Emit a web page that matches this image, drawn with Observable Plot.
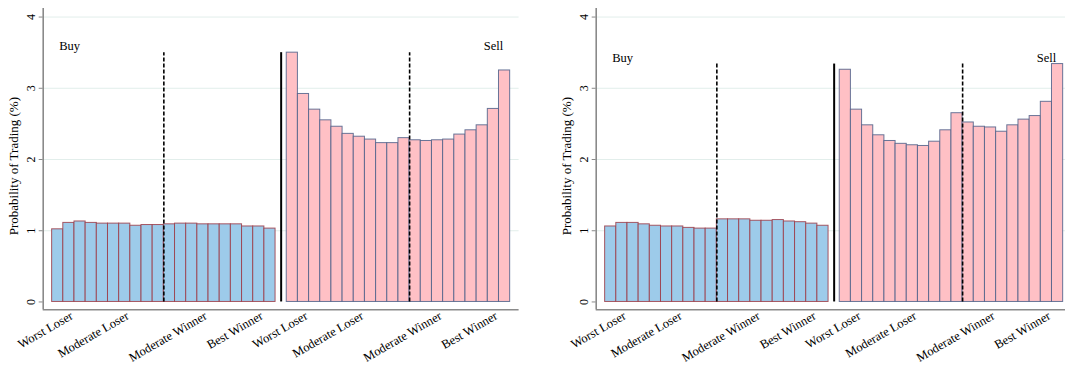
<!DOCTYPE html>
<html><head><meta charset="utf-8">
<script src="https://cdn.jsdelivr.net/npm/d3@7"></script>
<script src="https://cdn.jsdelivr.net/npm/@observablehq/plot@0.6"></script>
<style>
body{margin:0;background:#fff;overflow:hidden}
#wrap{display:flex;width:1110px;}
#wrap svg{flex:none}
</style></head><body><div id="wrap"></div>
<script>
// Probability of trading (%) by position bin, 20 bins each side
const leftBuy   = [1.02, 1.11, 1.13, 1.11, 1.10, 1.10, 1.10, 1.07, 1.08, 1.08, 1.09, 1.10, 1.10, 1.09, 1.09, 1.09, 1.09, 1.06, 1.06, 1.03];
const leftSell  = [3.50, 2.92, 2.70, 2.55, 2.46, 2.36, 2.32, 2.28, 2.23, 2.23, 2.30, 2.27, 2.26, 2.27, 2.28, 2.35, 2.41, 2.48, 2.71, 3.25];
const rightBuy  = [1.06, 1.11, 1.11, 1.09, 1.07, 1.06, 1.06, 1.04, 1.03, 1.03, 1.16, 1.16, 1.16, 1.14, 1.14, 1.15, 1.13, 1.12, 1.10, 1.07];
const rightSell = [3.26, 2.70, 2.48, 2.34, 2.26, 2.22, 2.20, 2.19, 2.25, 2.41, 2.65, 2.52, 2.46, 2.45, 2.39, 2.48, 2.56, 2.61, 2.81, 3.34];

const tickBins   = [2, 7, 14, 19];
const tickLabels = ["Worst Loser", "Moderate Loser", "Moderate Winner", "Best Winner"];
const yTicks     = [0, 1, 2, 3, 4];
const gridTicks  = [1, 2, 3, 4];
const buyBreak   = 10;   // dashed line after bin 10 (buy)
const sellBreak  = 11;   // dashed line after bin 11 (sell)
const sideLabels = ["Buy", "Sell"];
const yTitle     = "Probability of Trading (%)";

function panel(buy, sell) {
  const nb = buy.length;
  const sellStart = nb + 1;
  const buyRows = buy.map((v, i) => ({slot: i, v}));
  const sellRows = sell.map((v, i) => ({slot: sellStart + i, v}));
  const top = d3.max(buy.concat(sell));
  const xDomain = [-0.8, sellStart + sell.length + 0.8];
  const yDomain = [-0.11, 4.12];
  const ticks = [...tickBins.map(b => b - 0.5), ...tickBins.map(b => sellStart + b - 0.5)];
  const labelOf = new Map(ticks.map((t, i) => [t, tickLabels[i % tickLabels.length]]));
  const axisColor = "#8a8a8a";
  return Plot.plot({
    width: 553, height: 366,
    marginLeft: 42.7, marginRight: 34.4, marginTop: 8, marginBottom: 56.7,
    x: {domain: xDomain, axis: null},
    y: {domain: yDomain, axis: null},
    style: {fontFamily: "'Liberation Serif', 'Times New Roman', serif", background: "white", color: "black"},
    marks: [
      Plot.gridY(gridTicks, {stroke: "#e2eeeb", strokeOpacity: 1, strokeWidth: 1}),
      Plot.rectY(buyRows, {x1: "slot", x2: d => d.slot + 1, y1: 0, y2: "v", fill: "#9dcbea", stroke: "#9c3c48", strokeOpacity: 0.85, strokeWidth: 1}),
      Plot.rectY(sellRows, {x1: "slot", x2: d => d.slot + 1, y1: 0, y2: "v", fill: "#ffc0c5", stroke: "#4f6089", strokeOpacity: 0.85, strokeWidth: 1}),
      Plot.ruleX([buyBreak], {y1: 0, y2: top, stroke: "black", strokeWidth: 1.6, strokeDasharray: "4,2"}),
      Plot.ruleX([sellStart + sellBreak], {y1: 0, y2: top, stroke: "black", strokeWidth: 1.6, strokeDasharray: "4,2"}),
      Plot.ruleX([nb + 0.5], {y1: 0, y2: top, stroke: "black", strokeWidth: 2}),
      Plot.text([sideLabels[0]], {x: 0, y: top, dx: 7, dy: -6.5, text: d => d, textAnchor: "start", lineAnchor: "middle", fontSize: 12.5}),
      Plot.text([sideLabels[1]], {x: sellStart + sell.length, y: top, dx: -7, dy: -6.5, text: d => d, textAnchor: "end", lineAnchor: "middle", fontSize: 12.5}),
      Plot.ruleX([xDomain[0]], {stroke: axisColor, strokeWidth: 1.6}),
      Plot.ruleY([yDomain[0]], {stroke: axisColor, strokeWidth: 1.6}),
      Plot.axisY(yTicks, {tickRotate: -90, tickSize: 4, tickPadding: 4, stroke: axisColor, tickFormat: d => String(d), fontSize: 12, label: null}),
      Plot.axisX(ticks, {tickSize: 0, tickPadding: 0, tickRotate: -30, tickFormat: t => labelOf.get(t), textAnchor: "end", lineAnchor: "middle", dx: 3, dy: 5, fontSize: 12.5, label: null}),
      Plot.text([yTitle], {frameAnchor: "left", text: d => d, rotate: -90, dx: -29.7, dy: 7, lineAnchor: "middle", textAnchor: "middle", fontSize: 13})
    ]
  });
}

const wrap = document.getElementById("wrap");
wrap.appendChild(panel(leftBuy, leftSell));
wrap.appendChild(panel(rightBuy, rightSell));
</script></body></html>
